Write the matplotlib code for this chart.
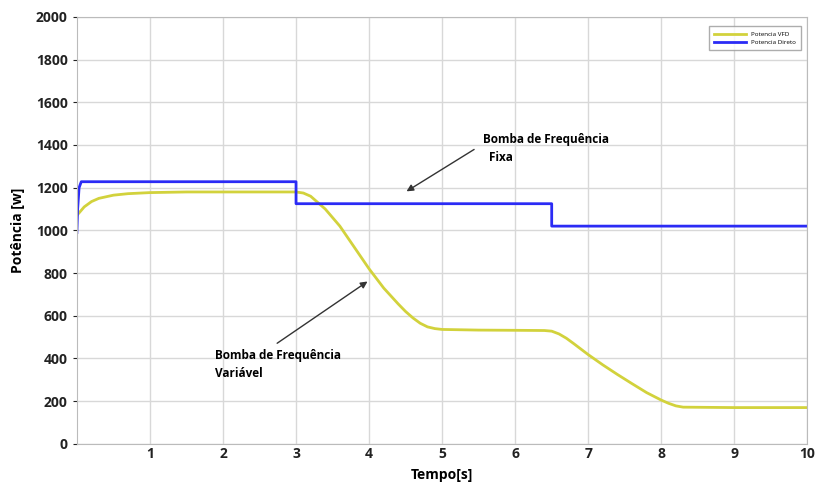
import matplotlib.pyplot as plt

# blue: fixed-frequency pump (direct)
t_direto = [0, 0.01, 0.03, 0.06, 3.0, 3.0, 6.5, 6.5, 10.0]
p_direto = [990, 1100, 1200, 1228, 1228, 1125, 1125, 1020, 1020]

# yellow: variable-frequency pump (VFD)
t_vfd = [0, 0.1, 0.2, 0.3, 0.5, 0.7, 1.0, 1.5, 2.0, 3.0, 3.1, 3.2, 3.4, 3.6,
         3.8, 4.0, 4.2, 4.4, 4.5, 4.6, 4.7, 4.8, 4.9, 5.0, 5.5, 6.0, 6.4, 6.5,
         6.6, 6.7, 6.8, 7.0, 7.2, 7.4, 7.6, 7.8, 8.0, 8.1, 8.2, 8.3, 9.0, 10.0]
p_vfd = [1070, 1110, 1135, 1150, 1165, 1172, 1177, 1180, 1180, 1180, 1175, 1160,
         1100, 1020, 920, 820, 730, 655, 620, 590, 565, 548, 540, 536, 533, 532,
         531, 528, 515, 495, 470, 418, 370, 325, 282, 240, 205, 190, 178, 172,
         170, 170]

xticks = [1, 2, 3, 4, 5, 6, 7, 8, 9, 10]
yticks = [0, 200, 400, 600, 800, 1000, 1200, 1400, 1600, 1800, 2000]

plt.rcParams['font.family'] = ['Open Sans', 'DejaVu Sans']

fig = plt.figure(figsize=(8.18, 4.83), dpi=100)
ax = fig.add_axes([0.094, 0.081, 0.893, 0.884])

ax.plot(t_vfd, p_vfd, color='#d2d23c', lw=2, label='Potencia VFD')
ax.plot(t_direto, p_direto, color='#2b2bf5', lw=2, label='Potencia Direto')

ax.set_xlim(0, 10)
ax.set_ylim(0, 2000)
ax.set_xticks(xticks)
ax.set_yticks(yticks)
ax.tick_params(labelsize=10, colors='#222222', length=3)
for lab in ax.get_xticklabels() + ax.get_yticklabels():
    lab.set_fontweight('bold')
ax.tick_params(axis='x', pad=2, length=0)
ax.grid(color='#d8d8d8', lw=1)
for s in ax.spines.values():
    s.set_color('#bbbbbb')

ax.set_xlabel('Tempo[s]', fontsize=10, fontweight='bold', labelpad=5)
ax.set_ylabel('Potência [w]', fontsize=10, fontweight='bold', labelpad=8)

leg = ax.legend(loc='upper right', fontsize=4.5, frameon=True, fancybox=False,
                handlelength=5, borderpad=0.8, bbox_to_anchor=(0.995, 0.985))
leg.get_frame().set_edgecolor('#999999')

ax.annotate('', xy=(4.48, 1176), xytext=(5.47, 1386),
            arrowprops=dict(arrowstyle='-|>', color='#333333', lw=1))
ax.text(5.56, 1455, 'Bomba de Frequência\n  Fixa', fontsize=8.5,
        fontweight='bold', va='top', ha='left', linespacing=1.5)

ax.annotate('', xy=(4.01, 768), xytext=(2.71, 464),
            arrowprops=dict(arrowstyle='-|>', color='#333333', lw=1))
ax.text(1.89, 445, 'Bomba de Frequência\nVariável', fontsize=8.5,
        fontweight='bold', va='top', ha='left', linespacing=1.5)

fig.savefig('out.png', dpi=100)
